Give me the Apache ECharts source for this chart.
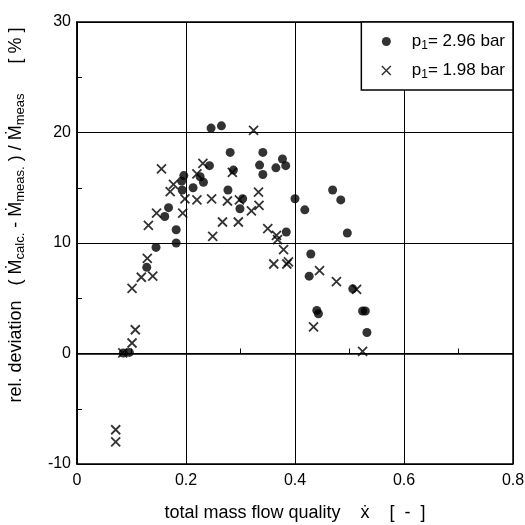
<!DOCTYPE html>
<html>
<head>
<meta charset="utf-8">
<script src="https://cdn.jsdelivr.net/npm/echarts@6/dist/echarts.min.js"></script>
<style>
html,body{margin:0;padding:0;background:#fff;}
#main{width:525px;height:525px;}
</style>
</head>
<body>
<div id="main"></div>
<script>
// p1 = 2.96 bar (dots)
var dotsX = [0.085,0.096,0.128,0.145,0.161,0.168,0.182,0.182,0.192,0.193,0.196,0.213,0.226,0.232,0.243,0.246,0.265,0.281,0.277,0.287,0.299,0.304,0.335,0.341,0.341,0.365,0.377,0.383,0.384,0.400,0.418,0.429,0.426,0.440,0.443,0.469,0.484,0.496,0.506,0.524,0.529,0.532];
var dotsY = [0.05,0.1,7.8,9.6,12.4,13.2,11.2,10.0,15.6,14.8,16.1,15.0,16.0,15.5,17.0,20.4,20.6,18.2,14.8,16.6,13.1,14.0,17.05,18.2,16.2,16.8,17.6,17.0,11.0,14.0,13.0,9.0,7.0,3.9,3.6,14.8,13.9,10.9,5.85,3.85,3.85,1.9];
// p1 = 1.98 bar (crosses)
var crossX = [0.071,0.071,0.084,0.101,0.107,0.101,0.118,0.139,0.129,0.131,0.146,0.155,0.171,0.177,0.194,0.198,0.220,0.231,0.220,0.247,0.249,0.267,0.276,0.285,0.296,0.298,0.320,0.324,0.333,0.334,0.350,0.366,0.368,0.379,0.385,0.388,0.361,0.434,0.445,0.476,0.513,0.524];
var crossY = [-6.9,-8.0,0.05,0.95,2.15,5.9,6.9,7.0,8.6,11.6,12.7,16.7,14.65,15.3,12.7,14.0,16.25,17.2,13.9,14.0,10.6,11.9,13.8,16.4,11.9,13.9,12.9,20.2,14.6,13.4,11.3,10.7,10.3,9.4,8.1,8.3,8.1,2.4,7.5,6.5,5.8,0.2];

var seriesNames = ['p1= 2.96 bar','p1= 1.98 bar'];
var xTicks = {min:0, max:0.8, step:0.2};
var yTicks = {min:-10, max:30, step:10};

function pairs(xs, ys){
    var out = [];
    for(var i=0;i<xs.length;i++){
        out.push([xs[i], ys[i]]);
    }
    return out;
}

var crossPath = 'path://M0,0L10,10M10,0L0,10';
var font = 'Liberation Sans, Arial, sans-serif';

var myChart = echarts.init(document.getElementById('main'));
var option = {
    animation:false,
    backgroundColor:'#fff',
    grid:{
        left:77, right:12, top:22, bottom:61,
        outerBoundsMode:'none',
        containLabel:false,
        show:true, borderColor:'#000', borderWidth:1.5
    },
    legend:{
        right:12, top:22,
        orient:'vertical',
        backgroundColor:'#fff',
        borderColor:'#000',
        borderWidth:1.5,
        padding:[11,8,9,18],
        itemGap:10,
        itemWidth:9, itemHeight:9,
        data:[
            {name:seriesNames[0], icon:'circle', itemStyle:{color:'#000'}},
            {name:seriesNames[1], icon:crossPath, itemStyle:{color:'none', borderColor:'#000', borderWidth:1.5}}
        ],
        formatter:function(name){
            return '{p|p}{s|1}{t|' + name.substring(2) + '}';
        },
        textStyle:{
            fontFamily:font, fontSize:17, color:'#000',
            rich:{
                p:{fontFamily:font, fontSize:17, color:'#000', padding:[0,0,0,16]},
                s:{fontFamily:font, fontSize:12, color:'#000', padding:[9,0,0,0]},
                t:{fontFamily:font, fontSize:17, color:'#000'}
            }
        }
    },
    xAxis:{
        type:'value',
        min:xTicks.min, max:xTicks.max, interval:xTicks.step,
        name:'total mass flow quality    \u1E8B    [  -  ]',
        nameLocation:'middle', nameGap:40,
        nameTextStyle:{fontFamily:font, fontSize:18, color:'#000', padding:[0,0,0,0]},
        axisLine:{lineStyle:{color:'#000', width:1.5}},
        axisTick:{inside:true, length:5, lineStyle:{color:'#000'}},
        minorTick:{show:true, splitNumber:2, length:5, lineStyle:{color:'#000'}},
        splitLine:{show:true, lineStyle:{color:'#000', width:1}},
        axisLabel:{fontFamily:font, fontSize:16, color:'#000', margin:9,
            formatter:function(v){ return String(Math.round(v*10)/10); }}
    },
    yAxis:{
        type:'value',
        min:yTicks.min, max:yTicks.max, interval:yTicks.step,
        name:'{n|rel. deviation   ( M\u0307}{s|calc.}{n| - M\u0307}{s|meas.}{n| ) / M\u0307}{s|meas}{n|      [ % ]}',
        nameLocation:'middle', nameGap:49, nameRotate:90,
        nameTextStyle:{
            fontFamily:font, fontSize:18, color:'#000', padding:[0,0,0,56],
            rich:{
                n:{fontFamily:font, fontSize:18, color:'#000', lineHeight:24},
                s:{fontFamily:font, fontSize:13, color:'#000', lineHeight:24, padding:[9,0,0,0]}
            }
        },
        axisLine:{lineStyle:{color:'#000', width:1.5}},
        axisTick:{inside:true, length:5, lineStyle:{color:'#000'}},
        minorTick:{show:true, splitNumber:2, length:5, lineStyle:{color:'#000'}},
        splitLine:{show:true, lineStyle:{color:'#000', width:1}},
        axisLabel:{fontFamily:font, fontSize:16, color:'#000', margin:6}
    },
    series:[
        {
            name:seriesNames[0],
            type:'scatter',
            symbol:'circle',
            symbolSize:9,
            itemStyle:{color:'#000'},
            data:pairs(dotsX, dotsY)
        },
        {
            name:seriesNames[1],
            type:'scatter',
            symbol:crossPath,
            symbolSize:9,
            itemStyle:{color:'none', borderColor:'#000', borderWidth:1.8},
            data:pairs(crossX, crossY)
        }
    ]
};
myChart.setOption(option);
</script>
</body>
</html>
